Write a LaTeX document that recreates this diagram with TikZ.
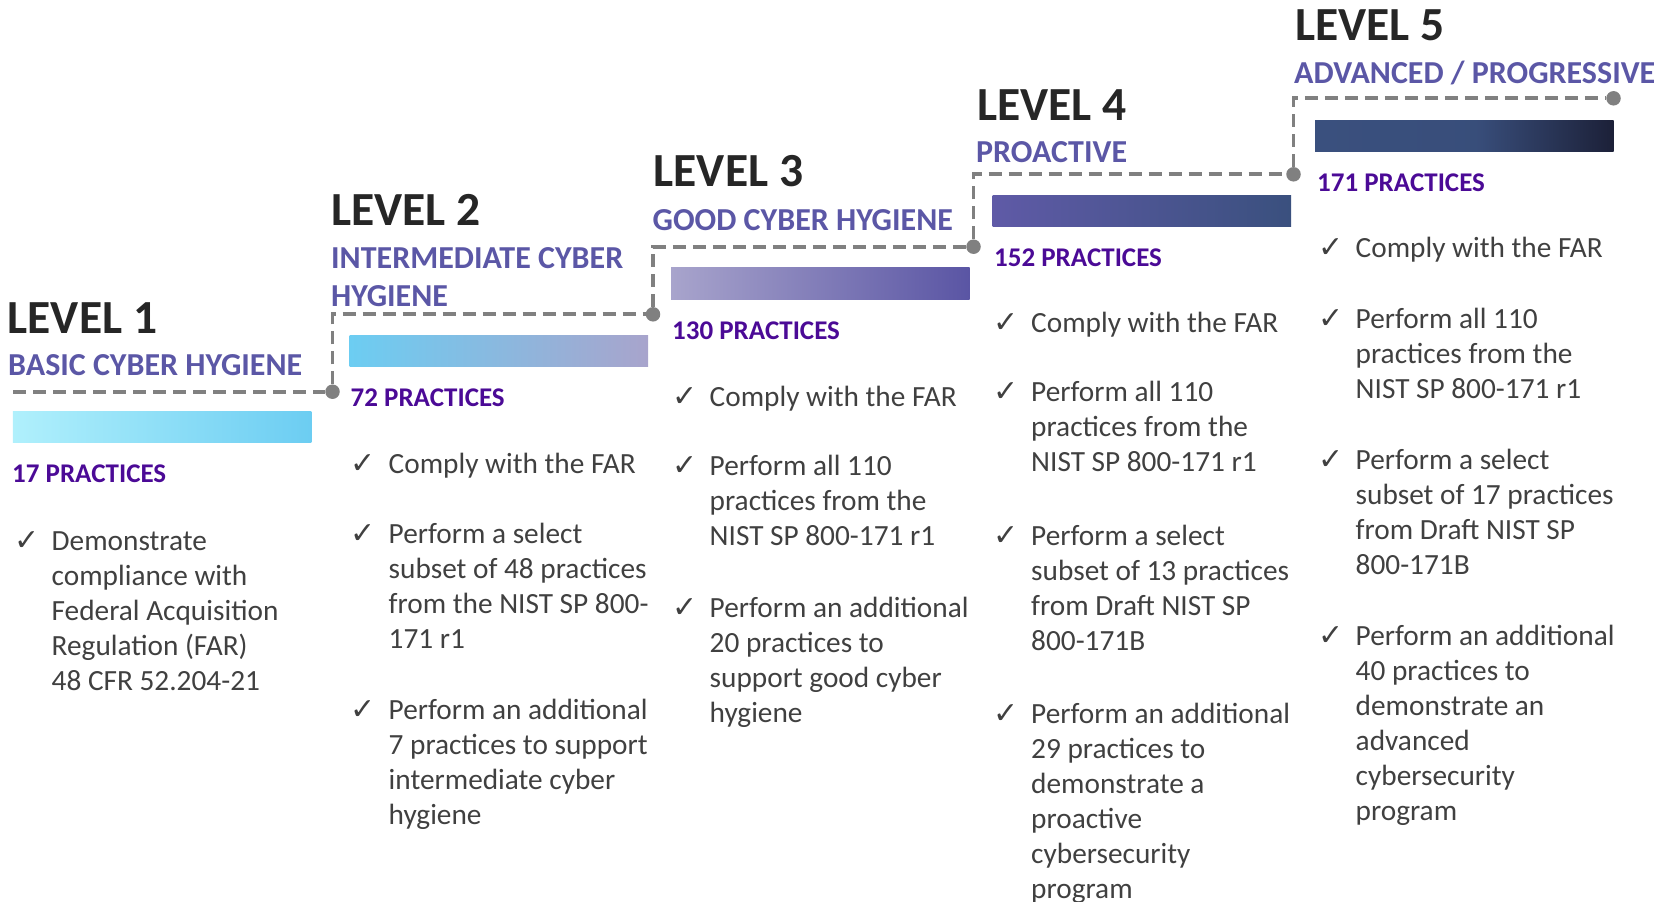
\documentclass[tikz,border=0pt]{standalone}
\usepackage{fontspec}
\setmainfont{Carlito}
\newfontfamily\chkfont{DejaVu Sans}
\usetikzlibrary{positioning}
\definecolor{titlegray}{HTML}{262626}
\definecolor{subblue}{HTML}{5B57A6}
\definecolor{pracpurple}{HTML}{4B0A96}
\definecolor{txtgray}{HTML}{404040}
\definecolor{dashgray}{HTML}{808080}
\definecolor{cA}{HTML}{B0F0FC}
\definecolor{cB}{HTML}{6CCDF2}
\definecolor{cC}{HTML}{A8A4CC}
\definecolor{cD}{HTML}{5A55A4}
\definecolor{cE}{HTML}{3A507E}
\definecolor{cF}{HTML}{1C2038}
\pgfdeclarehorizontalshading{lvfive}{100bp}{color(0bp)=(cE); color(25bp)=(cE); color(52bp)=(cE!97!black); color(75bp)=(cF); color(100bp)=(cF)}
\newcommand\itemlines[1]{\vtop{\baselineskip=35pt\halign{##\hfil\cr#1\crcr}}}
\tikzset{
  lvtitle/.style={anchor=base west, inner sep=0pt, text=titlegray, font=\bfseries\fontsize{47.5}{50}\selectfont},
  lvsub/.style={anchor=base west, inner sep=0pt, text=subblue, font=\bfseries\fontsize{32}{38}\selectfont},
  lvprac/.style={anchor=base west, inner sep=0pt, text=pracpurple, font=\bfseries\fontsize{27}{30}\selectfont},
  itm/.style={anchor=base west, inner sep=0pt, text=txtgray, font=\fontsize{29.3}{35}\selectfont},
  chk/.style={anchor=base west, inner sep=0pt, text=txtgray, font=\chkfont\fontsize{30}{30}\selectfont},
  dot/.style={circle, fill=dashgray, minimum size=14.5pt, inner sep=0pt},
  dashline/.style={draw=dashgray, line width=3.8pt, dash pattern=on 13pt off 7pt},
  bar/.style={anchor=north west, minimum width=298.5pt, minimum height=31.7pt, inner sep=0pt, draw=none}
}
\begin{document}
\begin{tikzpicture}[x=1pt, y=-1pt]
\useasboundingbox (0,0) rectangle (1657,902);
% dots and dashed steps
\coordinate (s1) at (13,391.7);
\node[dot] (d1) at (332.5,391.7) {};
\node[dot] (d2) at (653,314.3) {};
\node[dot] (d3) at (973.5,246.7) {};
\node[dot] (d4) at (1293.5,174.3) {};
\node[dot] (d5) at (1613.5,98.3) {};
\draw[dashline] (s1) -- (d1);
\draw[dashline] (d1) |- (d2);
\draw[dashline] (d2) |- (d3);
\draw[dashline] (d3) |- (d4);
\draw[dashline] (d4) |- (d5);
% bars
\node[bar, left color=cA, right color=cB] (b1) at (12.7,411) {};
\node[bar, left color=cB, right color=cC] (b2) at (349.3,335) {};
\node[bar, left color=cC, right color=cD] (b3) at (671,267.3) {};
\node[bar, left color=cD!97!white, right color=cE] (b4) at (992.3,195) {};
\node[bar, shading=lvfive] (b5) at (1315,120) {};
% titles
\node[lvtitle] (t1) at (7.5,333.3) {LEVEL 1};
\node[lvtitle] (t2) at (331,225) {LEVEL 2};
\node[lvtitle] (t3) at (653.5,186.7) {LEVEL 3};
\node[lvtitle] (t4) at (977,120) {LEVEL 4};
\node[lvtitle] (t5) at (1295,40.7) {LEVEL 5};
% subtitles
\node[lvsub] (u1) at (8,375) {BASIC CYBER HYGIENE};
\node[lvsub] (u2a) at (331,268) {INTERMEDIATE CYBER};
\node[lvsub] (u2b) at (331,306.7) {HYGIENE};
\node[lvsub] (u3) at (652.5,230) {GOOD CYBER HYGIENE};
\node[lvsub] (u4) at (976,162.7) {PROACTIVE};
\node[lvsub] (u5) at (1294,83.3) {ADVANCED / PROGRESSIVE};
% practices
\node[lvprac] (p1) at (12,482.7) {17 PRACTICES};
\node[lvprac] (p2) at (350.5,406.7) {72 PRACTICES};
\node[lvprac] (p3) at (672,339.3) {130 PRACTICES};
\node[lvprac] (p4) at (994,266.7) {152 PRACTICES};
\node[lvprac] (p5) at (1317,191.7) {171 PRACTICES};
% column 1
\node[chk] (k1a) at (14,550.5) {✓};
\node[itm] (i1a) at (51.5,550.5) {\itemlines{Demonstrate\cr compliance with\cr Federal Acquisition\cr Regulation (FAR)\cr 48 CFR 52.204-21}};
% column 2
\node[chk] (k2a) at (350.5,473.3) {✓};
\node[itm] (i2a) at (388.5,473.3) {\itemlines{Comply with the FAR}};
\node[chk] (k2b) at (350.5,543.3) {✓};
\node[itm] (i2b) at (388.5,543.3) {\itemlines{Perform a select\cr subset of 48 practices\cr from the NIST SP 800-\cr 171 r1}};
\node[chk] (k2c) at (350.5,719) {✓};
\node[itm] (i2c) at (388.5,719) {\itemlines{Perform an additional\cr 7 practices to support\cr intermediate cyber\cr hygiene}};
% column 3
\node[chk] (k3a) at (672,406) {✓};
\node[itm] (i3a) at (709.5,406) {\itemlines{Comply with the FAR}};
\node[chk] (k3b) at (672,475) {✓};
\node[itm] (i3b) at (709.5,475) {\itemlines{Perform all 110\cr practices from the\cr NIST SP 800-171 r1}};
\node[chk] (k3c) at (672,617) {✓};
\node[itm] (i3c) at (709.5,617) {\itemlines{Perform an additional\cr 20 practices to\cr support good cyber\cr hygiene}};
% column 4
\node[chk] (k4a) at (993.5,332.7) {✓};
\node[itm] (i4a) at (1031,332.7) {\itemlines{Comply with the FAR}};
\node[chk] (k4b) at (993.5,401.7) {✓};
\node[itm] (i4b) at (1031,401.7) {\itemlines{Perform all 110\cr practices from the\cr NIST SP 800-171 r1}};
\node[chk] (k4c) at (993.5,545) {✓};
\node[itm] (i4c) at (1031,545) {\itemlines{Perform a select\cr subset of 13 practices\cr from Draft NIST SP\cr 800-171B}};
\node[chk] (k4d) at (993.5,723.3) {✓};
\node[itm] (i4d) at (1031,723.3) {\itemlines{Perform an additional\cr 29 practices to\cr demonstrate a\cr proactive\cr cybersecurity\cr program}};
% column 5
\node[chk] (k5a) at (1318,257.3) {✓};
\node[itm] (i5a) at (1355.5,257.3) {\itemlines{Comply with the FAR}};
\node[chk] (k5b) at (1318,328.3) {✓};
\node[itm] (i5b) at (1355.5,328.3) {\itemlines{Perform all 110\cr practices from the\cr NIST SP 800-171 r1}};
\node[chk] (k5c) at (1318,469) {✓};
\node[itm] (i5c) at (1355.5,469) {\itemlines{Perform a select\cr subset of 17 practices\cr from Draft NIST SP\cr 800-171B}};
\node[chk] (k5d) at (1318,645) {✓};
\node[itm] (i5d) at (1355.5,645) {\itemlines{Perform an additional\cr 40 practices to\cr demonstrate an\cr advanced\cr cybersecurity\cr program}};
\end{tikzpicture}
\end{document}
